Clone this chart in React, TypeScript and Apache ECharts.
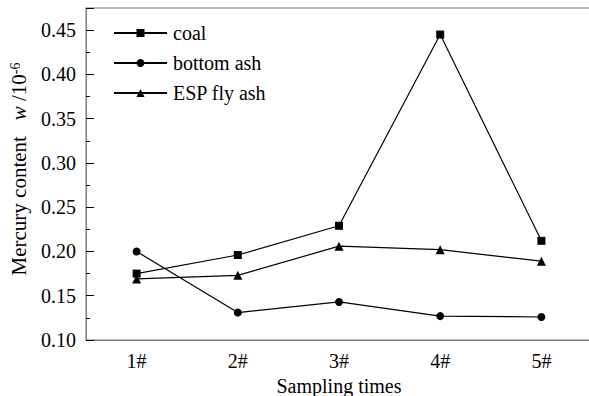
import React, { useEffect, useRef } from "react";
import * as echarts from "echarts";

const categories = ["1#", "2#", "3#", "4#", "5#"];
const coal = [0.175, 0.196, 0.229, 0.445, 0.212];
const bottomAsh = [0.2, 0.131, 0.143, 0.127, 0.126];
const espFlyAsh = [0.169, 0.173, 0.206, 0.202, 0.189];

const FONT = "Liberation Serif";
const AXIS_COLOR = "#7a7a7a";
const serif = { fontFamily: FONT, fontSize: 20, color: "#000" };

export default function App() {
  const ref = useRef<HTMLDivElement>(null);
  useEffect(() => {
    const chart = echarts.init(ref.current!, null, { renderer: "svg" });
    const mkSeries = (name: string, data: number[], symbol: string, size: number) => ({
      name,
      type: "line",
      data,
      symbol,
      symbolSize: size,
      showSymbol: true,
      lineStyle: { color: "#000", width: 1.2 },
      itemStyle: { color: "#000" },
      xAxisIndex: 0,
      yAxisIndex: 0,
    });
    chart.setOption({
      animation: false,
      textStyle: { fontFamily: FONT },
      grid: {
        left: 86,
        top: 8,
        width: 506,
        height: 332,
        outerBoundsMode: "none",
        containLabel: false,
        show: true,
        borderColor: AXIS_COLOR,
        borderWidth: 1,
        backgroundColor: "transparent",
      },
      legend: {
        orient: "vertical",
        left: 113,
        top: 23,
        padding: 0,
        itemWidth: 53,
        itemHeight: 10,
        itemGap: 10,
        textStyle: { ...serif, padding: [0, 0, 0, 1] },
        data: ["coal", "bottom ash", "ESP fly ash"],
      },
      xAxis: [
        {
          type: "category",
          data: categories,
          boundaryGap: true,
          axisLine: { lineStyle: { color: AXIS_COLOR, width: 1 } },
          axisTick: { inside: true, length: 8, alignWithLabel: true, lineStyle: { color: "#000" } },
          axisLabel: { ...serif, margin: 11 },
          splitLine: { show: false },
          name: "Sampling times",
          nameLocation: "middle",
          nameGap: 32,
          nameTextStyle: { ...serif, lineHeight: 20 },
        },
        {
          type: "category",
          data: categories,
          position: "bottom",
          boundaryGap: true,
          axisLine: { show: false },
          axisTick: { inside: true, length: 4, lineStyle: { color: "#000" } },
          axisLabel: { show: false },
          splitLine: { show: false },
        },
      ],
      yAxis: {
        type: "value",
        min: 0.1,
        max: 0.475,
        interval: 0.05,
        axisLine: { show: true, lineStyle: { color: AXIS_COLOR, width: 1 } },
        axisTick: { show: true, inside: true, length: 8, lineStyle: { color: "#000" } },
        minorTick: { show: true, splitNumber: 2, length: 4, lineStyle: { color: "#000" } },
        axisLabel: {
          ...serif,
          margin: 10,
          showMaxLabel: false,
          formatter: (v: number) => v.toFixed(2),
        },
        splitLine: { show: false },
      },
      graphic: [
        {
          type: "text",
          x: 19,
          y: 169,
          rotation: Math.PI / 2,
          style: {
            text: "{a|Mercury content   }{i|w}{a| /10}{s|-6}",
            align: "center",
            verticalAlign: "middle",
            fill: "#000",
            rich: {
              a: { fontFamily: FONT, fontSize: 21, fill: "#000", lineHeight: 22 },
              i: { fontFamily: FONT, fontSize: 21, fontStyle: "italic", fill: "#000", lineHeight: 22 },
              s: { fontFamily: FONT, fontSize: 14, fill: "#000", verticalAlign: "top", lineHeight: 22 },
            },
          },
        },
      ],
      series: [
        mkSeries("coal", coal, "rect", 8),
        mkSeries("bottom ash", bottomAsh, "circle", 8),
        mkSeries("ESP fly ash", espFlyAsh, "triangle", 9),
      ],
    });
    return () => chart.dispose();
  }, []);
  return (
    <div
      ref={ref}
      style={{ position: "absolute", left: 0, top: 0, width: 589, height: 396, background: "#fff" }}
    />
  );
}
